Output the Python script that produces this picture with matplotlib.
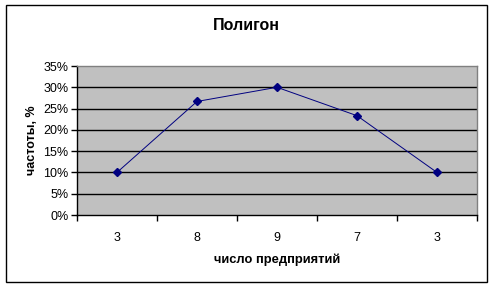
import numpy as np
import matplotlib.pyplot as plt
from matplotlib.patches import Rectangle
from matplotlib.ticker import PercentFormatter

plt.rcParams['font.family'] = ['Liberation Sans', 'DejaVu Sans']

# data
categories = ['3', '8', '9', '7', '3']
freq = [10.0, 26.67, 30.0, 23.33, 10.0]  # %
y_ticks = [0, 5, 10, 15, 20, 25, 30, 35]

fig = plt.figure(figsize=(4.92, 2.86), dpi=100)
# outer chart frame
fig.patches.append(Rectangle((6/492, 4/286), 481/492, 277/286, transform=fig.transFigure,
                             fill=False, edgecolor='black', linewidth=1.0))

ax = fig.add_axes([77/492, 1 - 215/286, 400/492, 149/286])
ax.set_facecolor('#c0c0c0')

x = np.arange(len(categories))
ax.plot(x, freq, color='#000080', linewidth=0.7, marker='D', markersize=4.5,
        markerfacecolor='#000080', markeredgecolor='#000080', zorder=3)

ax.set_xlim(-0.5, len(categories) - 0.5)
ax.set_ylim(0, 35)
ax.set_yticks(y_ticks)
ax.yaxis.set_major_formatter(PercentFormatter(decimals=0))
for yv in y_ticks[1:-1]:
    ax.axhline(yv, color='black', linewidth=1.0, zorder=1)

# category labels between boundary ticks
ax.set_xticks(np.arange(len(categories) + 1) - 0.5)
ax.set_xticklabels([])
ax.set_xticks(x, minor=True)
ax.set_xticklabels(categories, minor=True)
ax.tick_params(axis='x', which='minor', length=0, pad=12, labelsize=9)
ax.tick_params(axis='x', which='major', length=4, width=1, direction='out')
ax.tick_params(axis='y', length=4, width=1, direction='out', labelsize=9, pad=2)

for side in ['top', 'right']:
    ax.spines[side].set_color('#808080')
    ax.spines[side].set_linewidth(1.0)
for side in ['left', 'bottom']:
    ax.spines[side].set_color('black')
    ax.spines[side].set_linewidth(1.0)

fig.text(246/492, 1 - 25/286, 'Полигон', ha='center', va='center',
         fontsize=11.5, fontweight='bold')
ax.set_xlabel('число предприятий', fontsize=9.3, fontweight='bold', labelpad=7)
ax.set_ylabel('частоты, %', fontsize=9, fontweight='bold', labelpad=4)

fig.savefig('out.png', dpi=100)
